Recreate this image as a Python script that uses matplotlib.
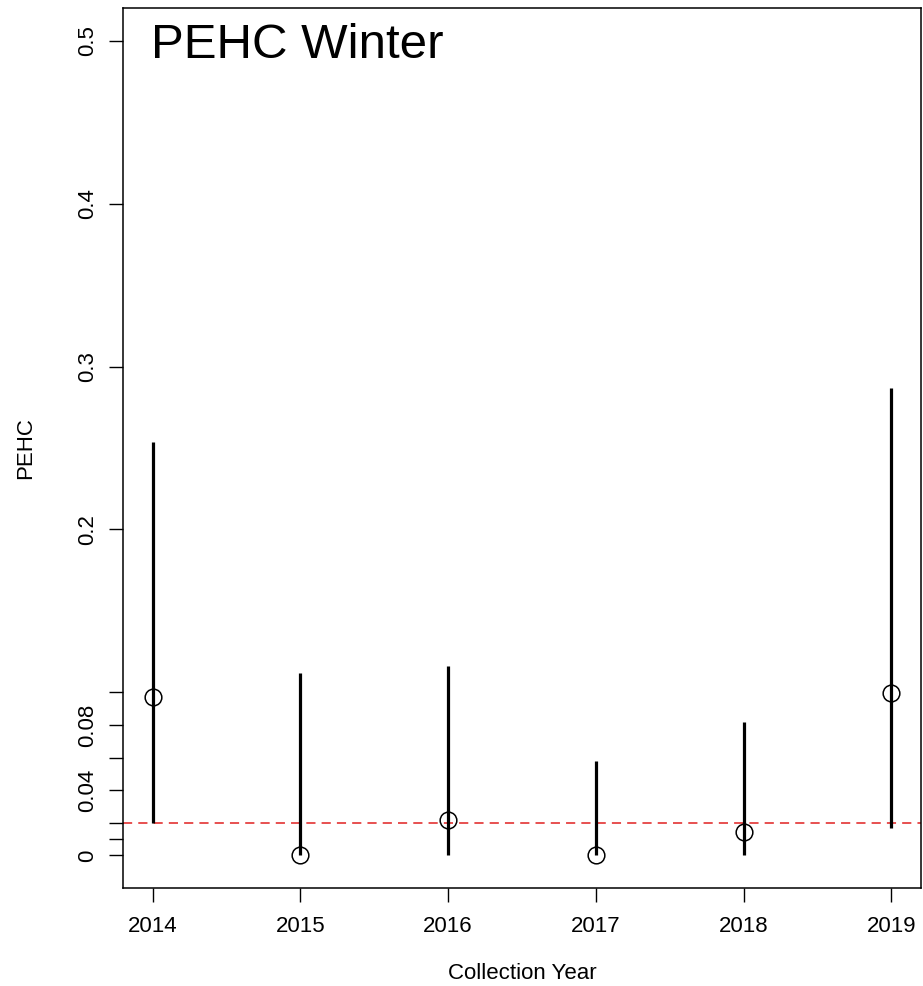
import matplotlib
matplotlib.use("Agg")
import matplotlib.pyplot as plt

plt.rcParams['font.family'] = ['Liberation Sans', 'DejaVu Sans']

years = [2014, 2015, 2016, 2017, 2018, 2019]
estimate = [0.0975, 0.0, 0.022, 0.0, 0.0143, 0.0995]
lower = [0.0200, 0.0, 0.0, 0.0, 0.0, 0.0166]
upper = [0.2535, 0.1117, 0.1160, 0.0580, 0.0820, 0.2870]
threshold = 0.02

ytick_pos = [0, 0.01, 0.02, 0.04, 0.06, 0.08, 0.1, 0.2, 0.3, 0.4, 0.5]
ytick_lab = ["0", "", "", "0.04", "", "0.08", "", "0.2", "0.3", "0.4", "0.5"]

title = "PEHC Winter"
xlabel = "Collection Year"
ylabel = "PEHC"

W, H = 923, 986
fig = plt.figure(figsize=(W / 100, H / 100), dpi=100)
L, R, T, B = 123, 921, 8, 888
ax = fig.add_axes([L / W, 1 - B / H, (R - L) / W, (B - T) / H])

ax.vlines(years, lower, upper, color='black', lw=2.3, zorder=2)
ax.plot(years, estimate, linestyle='none', marker='o', markersize=12,
        markerfacecolor='none', markeredgecolor='black', markeredgewidth=1.1, zorder=3)
ax.axhline(threshold, color='#e02020', lw=1.1, linestyle=(0, (6, 4)), zorder=1)

ax.set_xlim(2013.8, 2019.2)
ax.set_ylim(-0.02, 0.52)
ax.set_xticks(years)
ax.set_xticklabels([str(y) for y in years])
ax.set_yticks(ytick_pos)
ax.set_yticklabels(ytick_lab)

for s in ax.spines.values():
    s.set_linewidth(1.1)
ax.tick_params(axis='both', length=10, width=1.0, labelsize=16)
ax.tick_params(axis='x', pad=10)
ax.tick_params(axis='y', pad=8, labelrotation=90)
for lab in ax.get_yticklabels():
    lab.set_va('center')

fig.text(151 / W, 1 - 58 / H, title, fontsize=35.5, ha='left', va='baseline')
fig.text(26 / W, 1 - ((T + B) / 2) / H, ylabel, fontsize=16, rotation=90,
         ha='center', va='center')
fig.text(((L + R) / 2) / W, 1 - 979 / H, xlabel, fontsize=16, ha='center', va='baseline')

fig.savefig("out.png", dpi=100)
